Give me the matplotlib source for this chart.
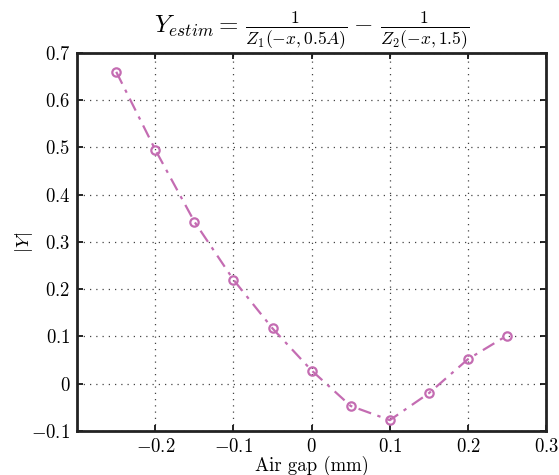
import matplotlib
matplotlib.use("Agg")
import matplotlib.pyplot as plt

x_gap = [-0.25, -0.2, -0.15, -0.1, -0.05, 0.0, 0.05, 0.1, 0.15, 0.2, 0.25]
y_vals = [0.66, 0.495, 0.343, 0.22, 0.117, 0.028, -0.047, -0.077, -0.02, 0.052, 0.102]
x_ticks = [-0.2, -0.1, 0, 0.1, 0.2, 0.3]
y_ticks = [-0.1, 0, 0.1, 0.2, 0.3, 0.4, 0.5, 0.6, 0.7]

plt.rcParams['font.family'] = 'serif'
plt.rcParams['font.serif'] = ['cmr10', 'DejaVu Serif']
plt.rcParams['mathtext.fontset'] = 'cm'
plt.rcParams['axes.formatter.use_mathtext'] = True
plt.rcParams['axes.unicode_minus'] = True

fig = plt.figure(figsize=(5.59, 4.75), dpi=100)
ax = fig.add_axes([0.138, 0.0926, 0.839, 0.796])

color = '#c46cb2'
ax.plot(x_gap, y_vals, linestyle='-.', color=color, lw=1.6,
        marker='o', markersize=6, markerfacecolor='none',
        markeredgecolor=color, markeredgewidth=1.6, dashes=(6, 3, 1.5, 3))

ax.set_xlim(-0.3, 0.3)
ax.set_ylim(-0.1, 0.7)
ax.set_xticks(x_ticks)
ax.set_yticks(y_ticks)
ax.set_xticklabels(['$-0.2$', '$-0.1$', '$0$', '$0.1$', '$0.2$', '$0.3$'])
ax.set_yticklabels(['$-0.1$', '$0$', '$0.1$', '$0.2$', '$0.3$', '$0.4$', '$0.5$', '$0.6$', '$0.7$'])
ax.tick_params(direction='in', top=True, right=True, length=4, width=1.2,
               labelsize=13.5, pad=5)
ax.grid(True, linestyle=(0, (1, 4)), color='#444444', linewidth=0.9)
for s in ax.spines.values():
    s.set_linewidth(2.0)
    s.set_color('#222222')

ax.set_xlabel('Air gap (mm)', fontsize=13.5, labelpad=0)
ax.set_ylabel('$|Y|$', fontsize=13.5, labelpad=-3)
ax.set_title(r'$Y_{estim}=\,\frac{1}{Z_1(-x,0.5A)}-\,\frac{1}{Z_2(-x,1.5)}$',
             fontsize=18, pad=15)

fig.savefig('out.png', dpi=100)
